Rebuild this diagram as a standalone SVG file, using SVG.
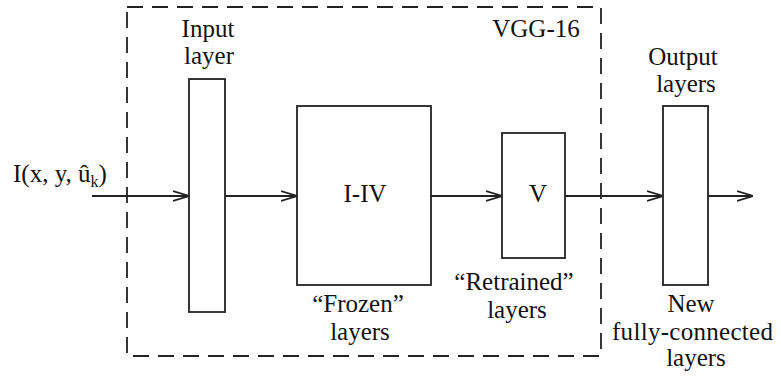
<svg xmlns="http://www.w3.org/2000/svg" width="781" height="377" viewBox="0 0 781 377">
<style>
text{font-family:'Liberation Serif','Times New Roman',serif;font-size:25px;fill:#111;text-anchor:middle}
.box{fill:#fff;stroke:#222;stroke-width:1.8}
.edge{fill:none;stroke:#222;stroke-width:1.8}
.dash{fill:none;stroke:#222;stroke-width:1.8;stroke-dasharray:16 9}
</style>
<defs>
<marker id="arr" viewBox="0 0 16 12" refX="16" refY="6" markerWidth="16" markerHeight="12" markerUnits="userSpaceOnUse" orient="auto">
<path d="M0,1 L16,6 L0,11" fill="none" stroke="#222" stroke-width="1.8"/>
</marker>
</defs>
<rect width="781" height="377" fill="#fff"/>
<g id="vgg16">
<rect class="dash" x="127" y="7" width="474" height="349"/>
<text x="536" y="37">VGG-16</text>
</g>
<g id="connectors">
<line class="edge" x1="92" y1="196" x2="189" y2="196" marker-end="url(#arr)"/>
<line class="edge" x1="225" y1="196" x2="297" y2="196" marker-end="url(#arr)"/>
<line class="edge" x1="431" y1="196" x2="502" y2="196" marker-end="url(#arr)"/>
<line class="edge" x1="565" y1="196" x2="663" y2="196" marker-end="url(#arr)"/>
<line class="edge" x1="708" y1="196" x2="753" y2="196" marker-end="url(#arr)"/>
</g>
<g id="input-label">
<text x="13" y="182" style="text-anchor:start">I(x, y, û<tspan font-size="16" dy="5">k</tspan><tspan dy="-5">)</tspan></text>
</g>
<g id="input-layer">
<rect class="box" x="189" y="79" width="36" height="233"/>
<text x="208" y="37">Input</text>
<text x="209" y="64">layer</text>
</g>
<g id="frozen">
<rect class="box" x="297" y="106" width="134" height="179"/>
<text x="365" y="202">I-IV</text>
<text x="358" y="312">“Frozen”</text>
<text x="360" y="340">layers</text>
</g>
<g id="retrained">
<rect class="box" x="502" y="133" width="63" height="125"/>
<text x="538" y="202">V</text>
<text x="514" y="290">“Retrained”</text>
<text x="517" y="318">layers</text>
</g>
<g id="output">
<rect class="box" x="663" y="106" width="45" height="179"/>
<text x="683" y="65">Output</text>
<text x="686" y="92">layers</text>
<text x="691" y="312">New</text>
<text x="692.5" y="340" textLength="161">fully-connected</text>
<text x="696" y="366">layers</text>
</g>
</svg>
